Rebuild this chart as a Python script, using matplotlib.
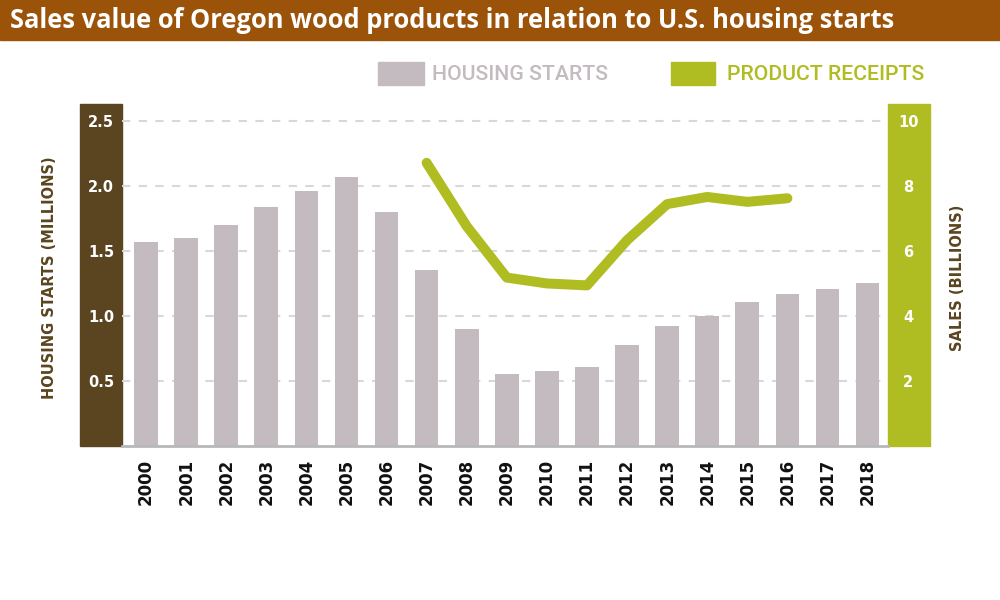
import numpy as np
import matplotlib
matplotlib.use("Agg")
import matplotlib.pyplot as plt
from matplotlib.patches import Rectangle

# data
years = [str(y) for y in range(2000, 2019)]
housing_starts = [1.57, 1.60, 1.70, 1.84, 1.96, 2.07, 1.80, 1.35, 0.90, 0.55,
                  0.58, 0.61, 0.78, 0.92, 1.00, 1.11, 1.17, 1.21, 1.25]
receipt_years = [str(y) for y in range(2007, 2017)]
product_receipts = [8.71, 6.76, 5.18, 5.00, 4.94, 6.33, 7.44, 7.66, 7.51, 7.62]

left_ticks = [0.5, 1.0, 1.5, 2.0, 2.5]
right_ticks = [2, 4, 6, 8, 10]

brown = "#9b5209"
dark = "#5a4520"
green = "#b0bd22"
bar_col = "#c3bbc0"

W, H = 1000, 600
fig = plt.figure(figsize=(10, 6), dpi=100)

def fx(px):
    return px / W

def fy(py):
    return 1 - py / H

# title banner
fig.patches.append(Rectangle((0, fy(40)), 1, 40 / H, transform=fig.transFigure,
                             color=brown, zorder=-1))
fig.text(fx(10), fy(21), "Sales value of Oregon wood products in relation to U.S. housing starts",
         color="white", fontsize=18.4, fontfamily="Open Sans", fontweight="bold", va="center")

# side bands
top, bot = 104, 446
fig.patches.append(Rectangle((fx(80), fy(bot)), fx(42), (bot - top) / H,
                             transform=fig.transFigure, color=dark, zorder=-1))
fig.patches.append(Rectangle((fx(888), fy(bot)), fx(42), (bot - top) / H,
                             transform=fig.transFigure, color=green, zorder=-1))

ax = fig.add_axes([fx(122), fy(bot), fx(888 - 122), (bot - top) / H])
ax2 = ax.twinx()

x = np.arange(len(years))
ax.bar(x, housing_starts, width=0.59, color=bar_col, zorder=2)
ax.set_xlim(-0.6, 18.51)
ax.set_ylim(0, 2.63)
ax.set_yticks(left_ticks)
ax.set_yticklabels([f"{v:.1f}" for v in left_ticks])
ax.yaxis.grid(True, linestyle=(0, (4, 4)), color="#d8d8d8", linewidth=1.5, zorder=0)
ax.set_axisbelow(True)
ax.set_xticks(x)
ax.set_xticklabels(years, rotation=90, fontweight="bold", fontsize=12, color="#111111")
ax.tick_params(axis="x", length=0, pad=9)
ax.tick_params(axis="y", length=0, pad=15, labelcolor="white", labelsize=10.5)
for lab in ax.get_yticklabels():
    lab.set_fontweight("bold")
    lab.set_horizontalalignment("center")
for s in ["top", "left", "right"]:
    ax.spines[s].set_visible(False)
ax.spines["bottom"].set_color("#b8b8b8")
ax.spines["bottom"].set_linewidth(2)
ax.patch.set_alpha(0)

rx = [years.index(y) for y in receipt_years]
ax2.plot(rx, product_receipts, color=green, linewidth=7.2, solid_capstyle="round",
         solid_joinstyle="round", zorder=3)
ax2.set_ylim(0, 2.63 * 4)
ax2.set_yticks(right_ticks)
ax2.set_yticklabels([str(v) for v in right_ticks])
ax2.tick_params(axis="y", length=0, pad=14.5, labelcolor="white", labelsize=10.5)
for lab in ax2.get_yticklabels():
    lab.set_fontweight("bold")
    lab.set_horizontalalignment("center")
for s in ax2.spines.values():
    s.set_visible(False)

# axis titles
fig.text(fx(50), fy(278), "HOUSING STARTS (MILLIONS)", rotation=90, color=dark,
         fontsize=10.5, fontweight="bold", ha="center", va="center")
fig.text(fx(958), fy(278), "SALES (BILLIONS)", rotation=90, color=dark,
         fontsize=10.5, fontweight="bold", ha="center", va="center")

# legend
fig.patches.append(Rectangle((fx(378), fy(85)), fx(46), 23 / H, transform=fig.transFigure,
                             color=bar_col))
fig.text(fx(432), fy(74), "HOUSING STARTS", color=bar_col, fontsize=15.3,
         fontfamily="Roboto", fontweight="medium", va="center")
fig.patches.append(Rectangle((fx(671), fy(85)), fx(44), 23 / H, transform=fig.transFigure,
                             color=green))
fig.text(fx(727), fy(74), "PRODUCT RECEIPTS", color=green, fontsize=15.3,
         fontfamily="Roboto", fontweight="medium", va="center")

fig.savefig("out.png", dpi=100)
